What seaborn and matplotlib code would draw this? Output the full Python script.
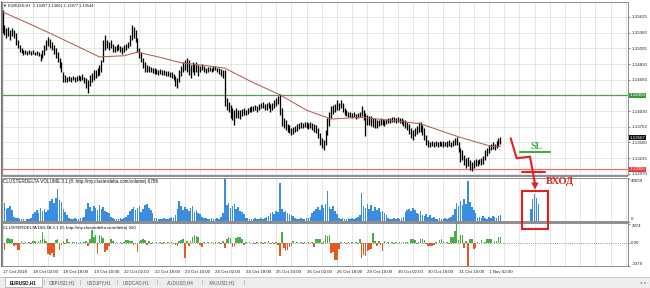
import matplotlib
matplotlib.use("Agg")
import matplotlib.pyplot as plt
import matplotlib.transforms as mtransforms
from matplotlib.patches import Rectangle, Polygon
from matplotlib.lines import Line2D
import numpy as np
import pandas as pd
import seaborn as sns

# ---------------- data (EURUSD H1) ----------------
highs = [
1.1574,1.1549,1.1544,1.1546,1.1540,1.1544,1.1540,1.1535,1.1524,1.1515,1.1510,1.1507,1.1507,1.1505,1.1507,1.1505,
1.1507,1.1503,1.1505,1.1503,1.1500,1.1507,1.1515,1.1524,1.1529,1.1525,1.1520,1.1515,1.1510,1.1503,1.1493,1.1486,
1.1470,1.1464,1.1461,1.1463,1.1461,1.1463,1.1461,1.1463,1.1464,1.1463,1.1466,1.1461,1.1459,1.1456,1.1464,1.1468,
1.1473,1.1473,1.1476,1.1481,1.1490,1.1524,1.1532,1.1524,1.1520,1.1524,1.1517,1.1513,1.1515,1.1517,1.1513,1.1512,
1.1515,1.1517,1.1520,1.1532,1.1549,1.1546,1.1540,1.1527,1.1510,1.1503,1.1493,1.1486,1.1481,1.1480,1.1478,1.1476,
1.1476,1.1475,1.1473,1.1475,1.1473,1.1473,1.1471,1.1471,1.1470,1.1470,1.1466,1.1463,1.1459,1.1473,1.1480,1.1486,
1.1490,1.1493,1.1490,1.1481,1.1486,1.1483,1.1486,1.1481,1.1480,1.1483,1.1480,1.1476,1.1478,1.1478,1.1476,1.1480,
1.1480,1.1476,1.1476,1.1475,1.1473,1.1473,1.1426,1.1419,1.1414,1.1409,1.1405,1.1409,1.1405,1.1405,1.1407,1.1409,
1.1405,1.1409,1.1410,1.1412,1.1412,1.1414,1.1412,1.1415,1.1417,1.1419,1.1415,1.1417,1.1419,1.1415,1.1417,1.1422,
1.1426,1.1429,1.1432,1.1409,1.1392,1.1388,1.1382,1.1380,1.1375,1.1377,1.1378,1.1382,1.1383,1.1385,1.1383,1.1385,
1.1385,1.1383,1.1385,1.1383,1.1382,1.1380,1.1375,1.1366,1.1358,1.1355,1.1371,1.1392,1.1402,1.1412,1.1414,1.1415,
1.1422,1.1417,1.1422,1.1417,1.1409,1.1405,1.1402,1.1402,1.1400,1.1402,1.1399,1.1400,1.1402,1.1412,1.1405,1.1400,
1.1397,1.1395,1.1395,1.1392,1.1392,1.1388,1.1388,1.1392,1.1390,1.1388,1.1390,1.1392,1.1392,1.1393,1.1393,1.1392,
1.1393,1.1392,1.1392,1.1388,1.1388,1.1385,1.1382,1.1375,1.1371,1.1375,1.1378,1.1385,1.1385,1.1380,1.1375,1.1363,
1.1355,1.1351,1.1353,1.1351,1.1353,1.1351,1.1353,1.1351,1.1353,1.1351,1.1353,1.1355,1.1351,1.1355,1.1358,1.1360,
1.1351,1.1341,1.1338,1.1329,1.1324,1.1326,1.1321,1.1317,1.1321,1.1323,1.1321,1.1323,1.1324,1.1328,1.1338,1.1341,
1.1346,1.1348,1.1351,1.1348,1.1353,1.1358,1.1360]

lows = [
1.1535,1.1532,1.1527,1.1530,1.1524,1.1530,1.1527,1.1515,1.1510,1.1503,1.1502,1.1498,1.1500,1.1498,1.1500,1.1498,
1.1500,1.1498,1.1498,1.1497,1.1488,1.1493,1.1498,1.1507,1.1513,1.1510,1.1507,1.1500,1.1493,1.1486,1.1476,1.1470,
1.1453,1.1453,1.1453,1.1454,1.1453,1.1456,1.1453,1.1454,1.1456,1.1454,1.1456,1.1451,1.1442,1.1434,1.1446,1.1453,
1.1456,1.1459,1.1463,1.1464,1.1470,1.1486,1.1507,1.1510,1.1507,1.1510,1.1503,1.1503,1.1505,1.1507,1.1503,1.1500,
1.1503,1.1507,1.1510,1.1513,1.1524,1.1527,1.1520,1.1503,1.1493,1.1486,1.1476,1.1470,1.1470,1.1470,1.1470,1.1468,
1.1466,1.1466,1.1464,1.1466,1.1464,1.1464,1.1463,1.1463,1.1461,1.1459,1.1456,1.1446,1.1442,1.1453,1.1463,1.1470,
1.1473,1.1470,1.1464,1.1459,1.1470,1.1464,1.1470,1.1463,1.1470,1.1473,1.1470,1.1468,1.1470,1.1471,1.1470,1.1471,
1.1473,1.1470,1.1466,1.1463,1.1459,1.1412,1.1405,1.1402,1.1392,1.1388,1.1380,1.1392,1.1392,1.1390,1.1395,1.1397,
1.1397,1.1399,1.1402,1.1402,1.1404,1.1405,1.1402,1.1405,1.1409,1.1409,1.1405,1.1405,1.1409,1.1402,1.1405,1.1409,
1.1412,1.1415,1.1397,1.1378,1.1375,1.1371,1.1368,1.1366,1.1363,1.1365,1.1368,1.1370,1.1373,1.1375,1.1375,1.1377,
1.1375,1.1373,1.1375,1.1371,1.1368,1.1366,1.1358,1.1346,1.1341,1.1338,1.1346,1.1363,1.1378,1.1392,1.1399,1.1402,
1.1405,1.1405,1.1409,1.1402,1.1397,1.1395,1.1393,1.1393,1.1392,1.1393,1.1390,1.1392,1.1393,1.1395,1.1388,1.1361,
1.1380,1.1380,1.1378,1.1377,1.1375,1.1375,1.1378,1.1380,1.1380,1.1378,1.1382,1.1383,1.1383,1.1385,1.1385,1.1383,
1.1385,1.1383,1.1382,1.1378,1.1375,1.1371,1.1365,1.1358,1.1355,1.1361,1.1365,1.1368,1.1368,1.1363,1.1355,1.1346,
1.1343,1.1343,1.1344,1.1343,1.1344,1.1343,1.1344,1.1344,1.1343,1.1344,1.1343,1.1344,1.1343,1.1344,1.1346,1.1346,
1.1334,1.1317,1.1321,1.1312,1.1307,1.1311,1.1304,1.1302,1.1307,1.1311,1.1311,1.1314,1.1312,1.1314,1.1321,1.1328,
1.1333,1.1338,1.1339,1.1338,1.1341,1.1344,1.1348]

ma_bars = [0, 12, 25, 38, 51, 64, 71, 82, 94, 105, 117, 131, 146, 160, 173, 188, 204, 220, 240, 257, 262]
ma_vals = [1.1571, 1.1554, 1.1535, 1.1515, 1.1495, 1.1497, 1.1503, 1.1495, 1.1485, 1.1481, 1.1476,
           1.1453, 1.1431, 1.1405, 1.1390, 1.1393, 1.1388, 1.1382, 1.1360, 1.1344, 1.1344]

volume = [
15600,18700,12500,13500,15600,11400,4200,3100,3100,2100,2100,2100,1000,2100,2100,3100,
7300,9400,11400,8300,13500,10400,12500,9400,11400,20800,22900,18700,23900,33300,21800,19800,
12500,9400,6200,3100,2100,2100,3100,2100,2100,3100,3100,4200,12500,18700,14600,10400,
15600,13500,11400,16600,12500,14600,10400,9400,8300,4200,3100,2100,2100,2100,3100,2100,
3100,4200,6200,10400,12500,14600,11400,13500,15600,9400,12500,16600,17700,13500,11400,8300,
3100,3100,2100,2100,2100,3100,2100,2100,3100,4200,3100,6200,12500,20800,15600,11400,
14600,12500,10400,13500,15600,9400,11400,8300,7300,4200,3100,3100,2100,2100,3100,2100,
2100,3100,2100,4200,8300,43659,16600,18700,13500,15600,17700,12500,14600,10400,9400,7300,
3100,3100,2100,2100,2100,3100,2100,2100,3100,2100,3100,4200,5200,8300,9400,7300,
10400,9400,39500,12500,9400,10400,8300,7300,6200,5200,3100,2100,2100,3100,2100,2100,
3100,3100,4200,8300,10400,12500,14600,11400,16600,13500,17700,31200,14600,12500,15600,10400,
7300,3100,2100,3100,2100,2100,3100,2100,3100,2100,3100,4200,6200,29100,15600,13500,
17700,12500,16600,10400,14600,11400,13500,9400,10400,8300,6200,3100,2100,2100,3100,2100,
3100,2100,3100,4200,9400,11400,12500,10400,13500,11400,8300,7300,10400,6200,5200,7300,
4200,6200,3100,4200,2100,2100,3100,2100,2100,3100,2100,3100,4200,6200,12500,18700,
15600,20800,16600,22900,17700,41600,19800,14600,11400,8300,3100,4200,3100,5200,3100,2100,
4200,3100,5200,4200,3100,5200,6200]

delta = [
-1000,-1100,600,700,500,600,-500,-300,-1000,-1100,200,-150,100,-100,150,-200,
200,300,-100,250,400,1600,500,300,-1700,-1800,-1500,-2100,450,500,-1000,-300,
200,-200,500,100,-100,150,-100,100,-150,100,-100,150,300,-400,600,1900,
900,1200,-1600,1100,1000,700,-1300,-1100,-400,600,200,-100,150,-100,100,-150,
100,450,400,200,300,-300,-200,-1300,300,400,500,350,-300,200,-150,100,
-100,150,-100,100,-150,100,-100,150,-100,100,-200,-300,-500,300,400,600,
-2200,300,-400,200,900,1200,1000,800,-300,-600,100,-100,150,-100,100,-150,
100,-100,150,-200,300,-800,600,900,700,-600,-500,700,900,800,600,-300,
100,-100,150,-100,120,-150,100,-100,150,-120,100,-100,200,-150,100,-200,
150,-250,-2000,1600,-800,-1200,-1100,-600,-500,200,-100,150,-100,100,-150,100,
-100,150,-100,100,-600,600,500,600,-200,300,1200,1000,1100,-1500,-1300,-2600,
-2500,-900,150,-100,100,-150,100,-100,150,-100,100,-150,600,-2200,-1800,-2000,
-1200,-1100,-900,1500,300,-400,200,-300,-1200,200,-100,150,-100,100,-150,100,
-100,150,-100,100,-150,100,-100,600,500,400,-200,100,600,500,400,-200,
-400,-500,-400,-300,100,-100,400,500,300,-100,100,-150,900,800,1800,2874,
400,1200,1100,-700,300,-3379,600,500,-900,-800,100,-100,450,-100,150,600,
500,600,-100,200,300,900,800]

# volume bars drawn inside the red box (annotation on the right)
box_bars = [278, 279, 280, 281, 282]
box_volume = [12300, 23500, 28600, 24500, 18400]

price_ticks = [1.15625, 1.15360, 1.15095, 1.14830, 1.14565, 1.14300, 1.14035, 1.13770, 1.13505, 1.13240, 1.12975]
price_labels = ["1.15625", "1.15360", "1.15095", "1.14830", "1.14565", "", "1.14030", "1.13762", "1.13500", "1.13235", "1.12970"]
level_green = 1.14300
level_red = 1.13050
last_price = 1.13587

time_bars = [0, 16, 32, 48, 64, 80, 96, 112, 128, 144, 160, 176, 192, 208, 224, 240, 256]
time_labels = ["17 Oct 2018", "18 Oct 02:00", "18 Oct 18:00", "19 Oct 10:00", "22 Oct 02:00", "22 Oct 18:00",
               "23 Oct 10:00", "24 Oct 02:00", "24 Oct 18:00", "25 Oct 10:00", "26 Oct 02:00", "26 Oct 18:00",
               "29 Oct 10:00", "30 Oct 02:00", "30 Oct 18:00", "31 Oct 10:00", "1 Nov 02:00"]

vol_ticks = [43659, 0]
delta_ticks = [2874, 0, -3379]
delta_labels = ["2874", "0.00", "-3379"]

tabs = ["EURUSD,H1", "GBPUSD,H1", "USDJPY,H1", "USDCAD,H1", "AUDUSD,H4", "XAUUSD,H1"]

# ---------------- style ----------------
sns.set_style("white")
plt.rcParams['font.family'] = ['Liberation Sans', 'DejaVu Sans']

W, H = 650, 288
fig = plt.figure(figsize=(W / 100, H / 100), dpi=100)
fig.patch.set_facecolor('white')


def rect(x0, y0, x1, y1):
    return [x0 / W, 1 - y1 / H, (x1 - x0) / W, (y1 - y0) / H]


def P(x, y):
    return (x / W, 1 - y / H)


X0, X1 = -0.3, 329.2
GRID = '#dcdcdc'
SPINE = '#8c8c8c'
LBL = 3.2

n = len(highs)
bars = np.arange(n)

ax = fig.add_axes(rect(2, 2, 628, 175))
axv = fig.add_axes(rect(2, 177.5, 628, 221.5))
axd = fig.add_axes(rect(2, 223, 628, 266))

# ---- main price panel ----
ax.vlines(bars, lows, highs, color='black', lw=0.95, zorder=3)
sns.lineplot(x=ma_bars, y=ma_vals, color='#b35d58', lw=0.75, ax=ax, zorder=4)
ax.axhline(level_green, color='#4f9f4f', lw=0.9, zorder=2)
ax.axhline(level_red, color='#e47272', lw=0.9, zorder=2)
for p in price_ticks:
    ax.axhline(p, color=GRID, lw=0.5, zorder=0)
ax.set_ylim(1.12955, 1.15878)
ax.set_yticks(price_ticks)
ax.set_yticklabels(price_labels)

# ---- volume panel ----
vdf = pd.DataFrame({'bar': list(bars) + box_bars, 'volume': volume + box_volume})
sns.barplot(data=vdf, x='bar', y='volume', native_scale=True, color='#3a8de0',
            saturation=1, width=0.82, linewidth=0, ax=axv)
axv.set_ylim(0, 45000)
axv.set_yticks(vol_ticks)
axv.set_yticklabels([str(v) for v in vol_ticks])

# ---- delta panel ----
ddf = pd.DataFrame({'bar': bars, 'delta': delta})
ddf['side'] = np.where(ddf['delta'] >= 0, 'buy', 'sell')
sns.barplot(data=ddf, x='bar', y='delta', hue='side', palette={'buy': '#45b045', 'sell': '#e65a22'},
            native_scale=True, dodge=False, saturation=1, width=0.82, linewidth=0, legend=False, ax=axd)
axd.axhline(0, color='#777777', lw=0.6, ls=(0, (1, 1.6)), zorder=1)
axd.set_ylim(-3450, 2950)
axd.set_yticks(delta_ticks)
axd.set_yticklabels(delta_labels)

for a in (ax, axv, axd):
    a.set_xlim(X0, X1)
    for v in np.arange(0, 330, 8):
        a.axvline(v, color=GRID, lw=0.5, zorder=0)
    for s in a.spines.values():
        s.set_color(SPINE)
        s.set_linewidth(0.7)
    a.yaxis.tick_right()
    a.tick_params(axis='y', length=1.2, width=0.5, colors='#555555', labelcolor='#222222',
                  labelsize=LBL, pad=1.2)
    a.set_xlabel('')
    a.set_ylabel('')
    a.set_facecolor('white')

for lab in axv.get_yticklabels():
    lab.set_va('bottom' if lab.get_text() == '0' else 'top')
for lab in axd.get_yticklabels():
    if lab.get_text() == '2874':
        lab.set_va('top')
    elif lab.get_text() == '-3379':
        lab.set_va('bottom')

ax.tick_params(axis='x', length=0, labelbottom=False)
axv.tick_params(axis='x', length=0, labelbottom=False)
axd.set_xticks(time_bars)
axd.set_xticklabels(time_labels, ha='left')
axd.tick_params(axis='x', length=2, width=0.5, colors='#555555', labelcolor='#222222',
                labelsize=3.2, pad=1.0)
axd.set_xlim(X0, X1)

# price boxes on the right scale
bt = mtransforms.blended_transform_factory(ax.transAxes, ax.transData)
for val, txt, col in [(level_green, "1.14300", '#3f9a3f'), (last_price, "1.13587", '#111111'),
                      (level_red, "1.13050", '#e23b3b')]:
    ax.text(1.0028, val, txt, transform=bt, fontsize=LBL, color='white', va='center', ha='left',
            bbox=dict(boxstyle='square,pad=0.18', fc=col, ec='none'), zorder=10, clip_on=False)

# panel separators / frame
for (x0, y0, x1, y1) in [(2, 174.6, 628, 177.4), (2, 221.4, 628, 223.2)]:
    fig.add_artist(Rectangle(P(x0, y1), (x1 - x0) / W, (y1 - y0) / H, transform=fig.transFigure,
                             fc='#8f8f8f', ec='none', zorder=5))
fig.add_artist(Line2D([1.3 / W, 1.3 / W], [1 - 1 / H, 1 - 266 / H], transform=fig.transFigure,
                      color='#777777', lw=0.8))

# header texts
fig.text(*P(3, 5.5), "\u25bc EURUSD,H1  1.13497 1.13601 1.13477 1.13544", fontsize=2.8,
         va='center', ha='left', color='#111111')
fig.text(*P(3, 181.5), "CLUSTERDELTA VOLUME 3.1 (8: http://my.clusterdelta.com/volume) 6786",
         fontsize=3.35, va='center', ha='left', color='#111111')
fig.text(*P(3, 227.5), "CLUSTERDELTA DELTA 3.1 (0: http://my.clusterdelta.com/delta) 920",
         fontsize=3.2, va='center', ha='left', color='#111111')

# ---------------- annotations ----------------
RED = '#e3201f'
GREEN = '#3fae3f'
zig_x = [510.7, 516.7, 530.0, 535.0]
zig_y = [138.3, 158.3, 156.7, 184.0]
fig.add_artist(Line2D([x / W for x in zig_x], [1 - y / H for y in zig_y], transform=fig.transFigure,
                      color=RED, lw=1.5, solid_joinstyle='miter', zorder=20))
fig.add_artist(Polygon([P(531.2, 182.5), P(538.8, 182.5), P(535.0, 189.5)], closed=True,
                       transform=fig.transFigure, fc=RED, ec='none', zorder=20))
fig.add_artist(Line2D([522 / W, 545 / W], [1 - 171.7 / H] * 2, transform=fig.transFigure,
                      color=RED, lw=1.5, zorder=20))
fig.add_artist(Line2D([520 / W, 550 / W], [1 - 151.7 / H] * 2, transform=fig.transFigure,
                      color=GREEN, lw=1.5, zorder=20))
fig.text(*P(536, 146.5), "SL", fontsize=7, fontweight='bold', color=GREEN, ha='center', va='center',
         family=['Liberation Serif', 'DejaVu Serif'], zorder=21)
fig.text(*P(560, 181), "ВХОД", fontsize=7.5, fontweight='bold', color=RED, ha='center', va='center',
         family=['Liberation Serif', 'DejaVu Serif'], zorder=21)
fig.add_artist(Rectangle(P(522, 229.3), 26 / W, 38.6 / H, transform=fig.transFigure,
                         fc='none', ec=RED, lw=1.5, zorder=20))

# ---------------- tab bar ----------------
fig.add_artist(Rectangle(P(0, 288), 1, 11 / H, transform=fig.transFigure, fc='#ededed', ec='none', zorder=1))
fig.add_artist(Line2D([0, 1], [1 - 277 / H] * 2, transform=fig.transFigure, color='#c4c4c4', lw=0.6))
fig.add_artist(Rectangle(P(5, 287), 37 / W, 10 / H, transform=fig.transFigure, fc='white',
                         ec='#a0a0a0', lw=0.5, zorder=2))
tab_x = [23, 62, 99, 136, 180, 222]
for i, (t, tx) in enumerate(zip(tabs, tab_x)):
    fig.text(*P(tx, 282.5), t, fontsize=3.3, ha='center', va='center',
             color='#111111' if i == 0 else '#555555', fontweight='bold' if i == 0 else 'normal', zorder=3)
for sx in [44, 80, 117, 157, 202, 244]:
    fig.text(*P(sx, 282.5), "|", fontsize=3.5, ha='center', va='center', color='#888888', zorder=3)
fig.text(*P(643, 282.5), "\u25c2  \u25b8", fontsize=3.0, ha='center', va='center', color='#777777', zorder=3)

fig.savefig("out.png", dpi=100, facecolor='white')
